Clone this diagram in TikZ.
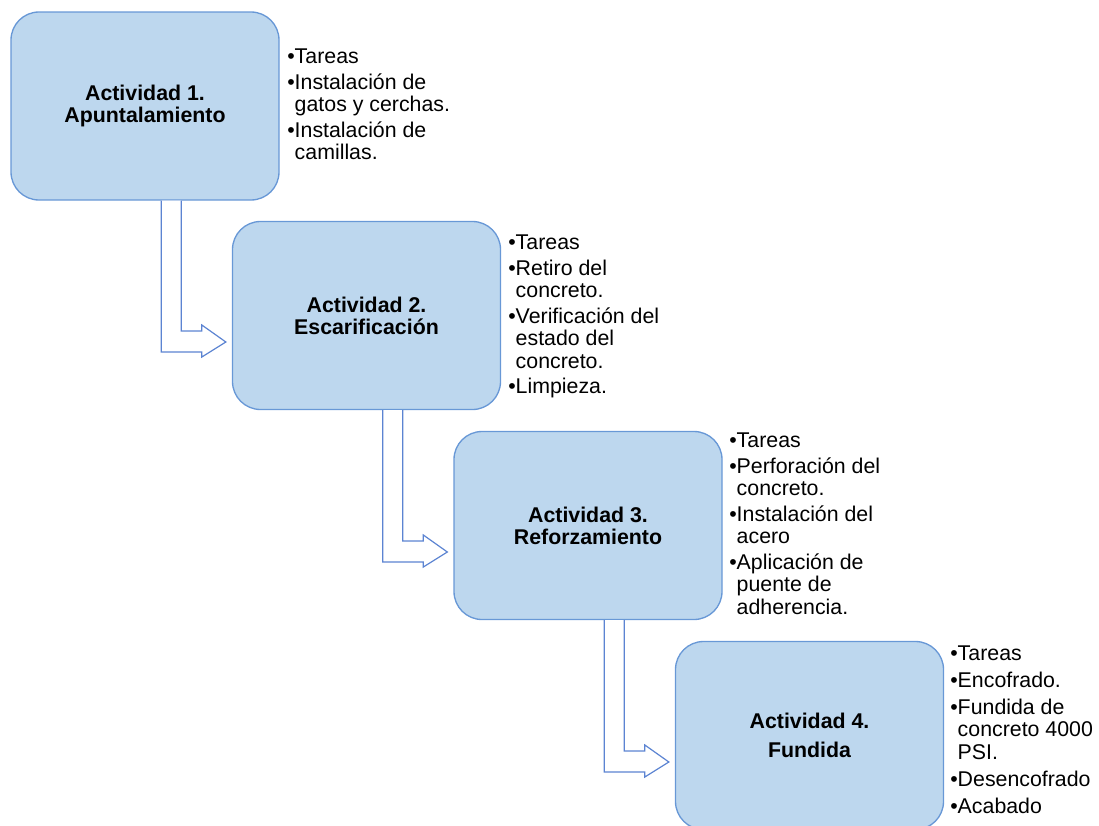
\documentclass[tikz,border=0pt]{standalone}
\usepackage{fontspec}
\setmainfont{Liberation Sans}
\usetikzlibrary{calc}
\definecolor{boxfill}{RGB}{189,215,238}
\definecolor{boxline}{RGB}{104,152,214}
\definecolor{arrline}{RGB}{92,132,210}
\newcommand{\bul}{\textbullet}
\newcommand{\ind}{\hphantom{\textbullet}}
\begin{document}
\begin{tikzpicture}[x=0.75pt,y=-0.75pt,
  act/.style={draw=boxline, fill=boxfill, line width=1pt, rounded corners=21pt,
    minimum width=201pt, minimum height=141pt, inner sep=0pt, align=center,
    font=\bfseries\fontsize{16}{16.5}\selectfont},
  tasks/.style={anchor=north west, inner sep=0pt, align=left,
    font=\fontsize{16}{16.9}\selectfont},
  arr/.style={draw=arrline, fill=white, line width=0.9pt, line join=miter}]
\useasboundingbox (0,0) rectangle (1099,825);
\clip (0,0) rectangle (1099,825);

\node[act] (b1) at (145,106) {Actividad 1.\\Apuntalamiento};
\node[act] (b2) at (366.5,315.5) {Actividad 2.\\Escarificación};
\node[act] (b3) at (588,525.5) {Actividad 3.\\Reforzamiento};
\node[act] (b4) at (809.5,735.5) {Actividad 4.\\[5pt]Fundida};

\foreach \a/\b in {b1/b2, b2/b3, b3/b4}{
  \draw[arr] ($(\a.south west)+(151,0)$) |- ($(\b.west)+(-30,36.5)$)
    -- ($(\b.west)+(-30,41.5)$) -- ($(\b.west)+(-6,26.5)$)
    -- ($(\b.west)+(-30,9.5)$) -- ($(\b.west)+(-30,15.5)$)
    -| ($(\a.south west)+(171,0)$);
}

\node[tasks] (t1) at (287,49) {\bul Tareas\\[2.2pt]
\bul Instalación de\\ \ind gatos y cerchas.\\[2.2pt]
\bul Instalación de\\ \ind camillas.};

\node[tasks] (t2) at (508,235) {\bul Tareas\\[2.2pt]
\bul Retiro del\\ \ind concreto.\\[2.2pt]
\bul Verificación del\\ \ind estado del\\ \ind concreto.\\[2.2pt]
\bul Limpieza.};

\node[tasks] (t3) at (729,433) {\bul Tareas\\[2.2pt]
\bul Perforación del\\ \ind concreto.\\[2.2pt]
\bul Instalación del\\ \ind acero\\[2.2pt]
\bul Aplicación de\\ \ind puente de\\ \ind adherencia.};

\node[tasks] (t4) at (950,646) {\bul Tareas\\[3pt]
\bul Encofrado.\\[3pt]
\bul Fundida de\\ \ind concreto 4000\\ \ind PSI.\\[4pt]
\bul Desencofrado\\[3pt]
\bul Acabado};
\end{tikzpicture}
\end{document}
